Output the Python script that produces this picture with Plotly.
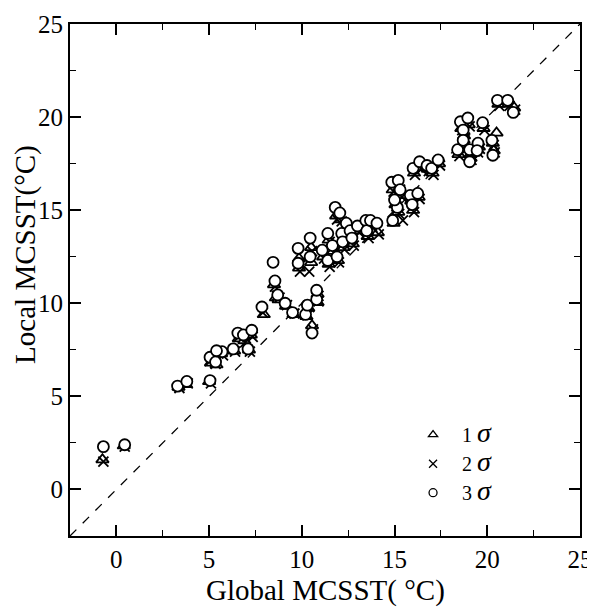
import plotly.graph_objects as go

# 3 sigma (circles)
c_x = [-0.7, 0.45, 3.3, 3.8, 5.05, 5.05, 5.35, 5.7, 5.4, 6.3, 6.55, 6.85, 7.1, 7.3,
       7.85, 8.45, 8.55, 8.7, 9.1, 9.5, 9.8, 9.8, 10.2, 10.3, 10.55, 10.8, 10.8,
       10.45, 10.45, 11.1, 11.4, 11.4, 11.65, 11.8, 12.05, 11.9, 12.15, 12.2, 12.4,
       12.6, 12.7, 13.0, 13.45, 13.5, 13.7, 14.05,
       14.85, 15.2, 15.3, 15.15, 14.9, 15.85, 15.95, 16.25, 15.0,
       16.0, 16.35, 16.75, 17.0, 17.35,
       18.55, 18.95, 18.7, 18.4, 18.7, 19.05, 19.05, 19.5, 19.75, 20.25, 20.3, 20.55, 21.1, 21.4, 19.45]
c_y = [2.3, 2.4, 5.55, 5.8, 5.85, 7.1, 6.85, 7.4, 7.45, 7.55, 8.4, 8.3, 7.55, 8.55,
       9.8, 12.2, 11.2, 10.45, 10.0, 9.5, 12.95, 12.15, 9.4, 9.9, 8.4, 10.2, 10.7,
       13.5, 12.5, 12.85, 13.75, 12.3, 13.1, 15.15, 14.85, 12.5, 13.75, 13.3, 14.3,
       13.9, 13.5, 14.15, 14.45, 13.9, 14.45, 14.3,
       16.5, 16.6, 16.1, 15.15, 14.45, 15.8, 15.3, 15.9, 15.55,
       17.25, 17.6, 17.4, 17.25, 17.7,
       19.75, 19.95, 19.3, 18.25, 18.75, 18.25, 17.6, 18.6, 19.7, 18.75, 17.95, 20.9, 20.9, 20.25, 18.2]

# 1 sigma (triangles)
t_x = [-0.75, 0.4, 3.35, 3.75, 5.0, 5.1, 5.4, 5.65, 5.45, 6.35, 6.6, 6.9, 7.15, 7.25,
       7.95, 8.5, 8.6, 8.75, 9.15, 9.55, 9.85, 9.85, 10.25, 10.35, 10.55, 10.85, 10.85,
       10.5, 10.5, 11.15, 11.45, 11.45, 11.7, 11.85, 12.1, 11.95, 12.2, 12.25, 12.45,
       12.65, 12.75, 13.05, 13.5, 13.55, 13.75, 14.1,
       14.9, 15.25, 15.35, 15.2, 14.95, 15.9, 16.0, 16.3, 15.05,
       16.05, 16.4, 16.8, 17.05, 17.4,
       18.6, 19.0, 18.75, 18.45, 18.75, 19.1, 19.1, 19.55, 19.8, 20.3, 20.35, 20.6, 21.15, 21.45, 20.5]
t_y = [1.6, 2.35, 5.5, 5.65, 5.8, 6.8, 6.7, 7.3, 7.35, 7.45, 8.1, 8.0, 7.5, 8.3,
       9.4, 11.0, 10.3, 10.2, 9.85, 9.4, 12.4, 11.9, 9.3, 9.75, 8.8, 10.05, 10.5,
       13.0, 12.2, 12.5, 13.4, 12.1, 12.8, 14.7, 14.5, 12.3, 13.4, 13.0, 14.0,
       13.6, 13.2, 13.9, 14.1, 13.6, 14.2, 13.8,
       16.1, 16.2, 15.8, 14.9, 14.3, 15.5, 15.0, 15.7, 15.3,
       17.0, 17.3, 17.2, 17.0, 17.5,
       19.4, 19.6, 19.0, 18.0, 18.5, 18.0, 17.8, 18.4, 19.4, 18.6, 18.2, 20.7, 20.7, 20.5, 19.15]

# 2 sigma (crosses)
x_x = [-0.7, 0.45, 3.4, 3.85, 5.1, 5.05, 5.35, 5.75, 5.5, 6.4, 6.6, 6.95, 7.2, 7.35,
       7.9, 8.55, 8.65, 8.8, 9.2, 9.6, 9.9, 9.9, 10.3, 10.4, 10.6, 10.9, 10.9,
       10.55, 10.4, 11.2, 11.5, 11.5, 11.75, 11.9, 12.15, 12.0, 12.25, 12.3, 12.5,
       12.7, 12.8, 13.1, 13.55, 13.6, 13.8, 14.15,
       14.95, 15.3, 15.4, 15.25, 15.45, 15.95, 16.05, 16.35, 15.1,
       16.1, 16.45, 16.85, 17.1, 17.45,
       18.65, 19.05, 18.8, 18.5, 18.8, 19.15, 19.15, 19.6, 19.85, 20.35, 20.4, 20.65, 21.2, 21.5, 19.5]
x_y = [1.5, 2.3, 5.45, 5.7, 5.7, 6.9, 6.75, 7.2, 7.3, 7.4, 8.2, 7.9, 7.4, 8.2,
       9.5, 10.9, 10.4, 10.3, 9.9, 9.45, 12.2, 11.7, 9.35, 9.8, 8.6, 10.1, 10.4,
       12.8, 11.7, 12.4, 13.3, 11.95, 12.7, 14.5, 14.4, 12.2, 13.3, 12.9, 13.9,
       13.5, 13.1, 13.8, 14.0, 13.5, 14.1, 13.7,
       16.0, 16.1, 15.7, 14.8, 14.45, 15.4, 14.9, 15.6, 15.2,
       16.9, 17.2, 17.1, 16.9, 17.4,
       19.3, 19.5, 18.9, 17.9, 18.4, 17.9, 17.7, 18.3, 19.3, 18.5, 18.1, 20.6, 20.6, 20.4, 18.1]

ref_line = [-2.5, 25]
ticks = [0, 5, 10, 15, 20, 25]
SIG = '<span style="font-style:italic;font-size:28px">σ</span>'
series_names = ["1 " + SIG, "2 " + SIG, "3 " + SIG]
x_title = "Global MCSST( °C)"
y_title = "Local MCSST(°C)"
FONT = "Liberation Serif, Times New Roman, serif"

fig = go.Figure()
fig.add_trace(go.Scatter(x=ref_line, y=ref_line, mode="lines",
                         line=dict(color="black", width=1.3, dash="dash"),
                         showlegend=False, hoverinfo="skip"))

styles = [
    dict(symbol="triangle-up", color="white"),
    dict(symbol="x-thin", color="black"),
    dict(symbol="circle", color="white"),
]
data = [(t_x, t_y), (x_x, x_y), (c_x, c_y)]
for i, ((xs, ys), st, nm) in enumerate(zip(data, styles, series_names)):
    fig.add_trace(go.Scatter(x=xs, y=ys, mode="markers", name=nm, legendgroup=str(i),
                             showlegend=False,
                             marker=dict(symbol=st["symbol"], size=11 if i != 1 else 10,
                                         color=st["color"],
                                         line=dict(color="black", width=1.8))))
# legend entries (smaller symbols, like the reference key)
for i, (st, nm) in enumerate(zip(styles, series_names)):
    fig.add_trace(go.Scatter(x=[None], y=[None], mode="markers", name=nm, legendgroup=str(i),
                             showlegend=True,
                             marker=dict(symbol=st["symbol"], size=8, color=st["color"],
                                         line=dict(color="black", width=1.3))))

axis_common = dict(
    range=[-2.5, 25], tickvals=ticks, ticks="inside", ticklen=11, tickwidth=1.5,
    tickcolor="black", showline=True, linecolor="black", linewidth=2,
    mirror="ticks", showgrid=False, zeroline=False,
    tickfont=dict(family=FONT, size=25, color="black"),
    minor=dict(dtick=2.5, tick0=0, ticks="inside", ticklen=6, tickwidth=1.3,
               tickcolor="black", showgrid=False),
)
fig.update_xaxes(**axis_common)
fig.update_yaxes(**axis_common)

fig.add_annotation(text=x_title, xref="paper", yref="paper", x=0.5, y=-0.1065,
                   xanchor="center", yanchor="middle", showarrow=False,
                   font=dict(family=FONT, size=29, color="black"))
fig.add_annotation(text=y_title, xref="paper", yref="paper", x=-0.0863, y=0.551,
                   xanchor="center", yanchor="middle", showarrow=False, textangle=-90,
                   font=dict(family=FONT, size=29, color="black"))

# page body has an 8px margin, so the figure is offset by 8px
fig.update_layout(
    width=587, height=599,
    margin=dict(l=62, r=15, t=16, b=71, autoexpand=False),
    plot_bgcolor="white", paper_bgcolor="white",
    showlegend=True,
    legend=dict(x=0.655, y=0.236, xanchor="left", yanchor="top",
                bgcolor="rgba(0,0,0,0)", itemsizing="trace", itemwidth=48,
                font=dict(family=FONT, size=20, color="black"),
                tracegroupgap=0),
)

fig.write_html("out.html")
